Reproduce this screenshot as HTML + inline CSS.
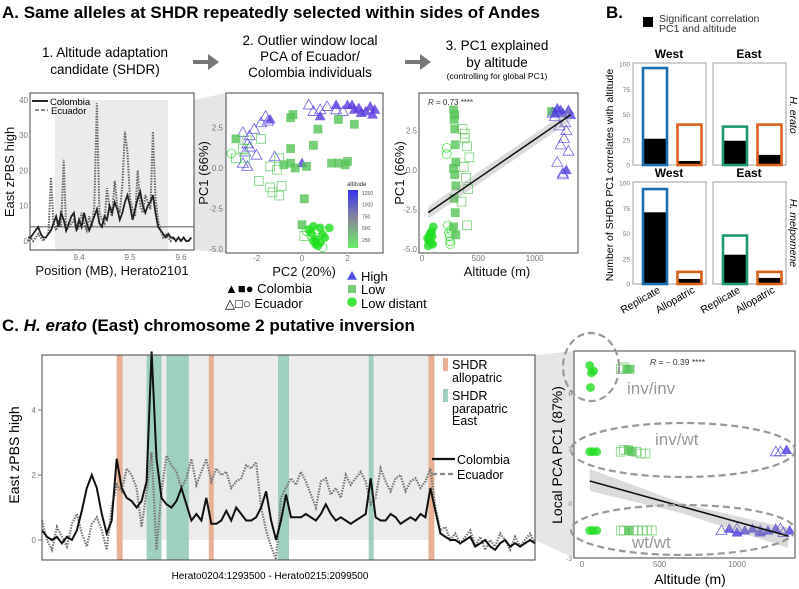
<!DOCTYPE html>
<html><head><meta charset="utf-8"><style>
body{margin:0;background:#fff}
svg{font-family:"Liberation Sans",sans-serif;display:block}
.tk{font-size:8px;fill:#777}
.at{font-size:13px;fill:#111}
</style></head><body>
<svg id="s" width="799" height="589" viewBox="0 0 799 589" xmlns="http://www.w3.org/2000/svg">
<text x="2" y="18" font-size="17" font-weight="bold">A. Same alleles at SHDR repeatedly selected within sides of Andes</text>
<text x="105" y="57" font-size="13.5" text-anchor="middle">1. Altitude adaptation</text>
<text x="105" y="74" font-size="13.5" text-anchor="middle">candidate (SHDR)</text>
<text x="310" y="45" font-size="13.5" text-anchor="middle">2. Outlier window local</text>
<text x="310" y="61" font-size="13.5" text-anchor="middle">PCA of Ecuador/</text>
<text x="310" y="77" font-size="13.5" text-anchor="middle">Colombia individuals</text>
<text x="497" y="50" font-size="13.5" text-anchor="middle">3. PC1 explained</text>
<text x="497" y="67" font-size="13.5" text-anchor="middle">by altitude</text>
<text x="497" y="79" font-size="8.5" text-anchor="middle">(controlling for global PC1)</text>
<g fill="#777">
<path d="M193,60 H208 V54 L219,62 L208,70 V64 H193 Z"/>
<path d="M405,60 H420 V54 L431,62 L420,70 V64 H405 Z"/>
</g>
<polygon points="194,100 226,93 226,253 194,250" fill="#e6e6e6"/>
<polygon points="535,355 574,351 574,558 535,540" fill="#e6e6e6"/>
<g id="a1"></g><g id="a2"></g><g id="a3"></g><g id="b"></g><g id="c1"></g><g id="c2"></g>
<text x="2" y="331" font-size="17" font-weight="bold">C. <tspan font-style="italic">H. erato</tspan> (East) chromosome 2 putative inversion</text>
</svg>
<script>
const NS="http://www.w3.org/2000/svg";
function mk(p,tag,at,txt){const e=document.createElementNS(NS,tag);for(const k in at)e.setAttribute(k,at[k]);if(txt!==undefined)e.textContent=txt;p.appendChild(e);return e;}
function shape(p,type,filled,x,y,c,s){let e;
 if(type==='H'){e=mk(p,'path',{d:`M${x},${y-s} L${x+s},${y+s*0.75} L${x-s},${y+s*0.75} Z`});}
 else if(type==='L'){e=mk(p,'rect',{x:x-s*0.8,y:y-s*0.8,width:s*1.6,height:s*1.6});}
 else{e=mk(p,'circle',{cx:x,cy:y,r:s*0.8});}
 if(filled){e.setAttribute('fill',c);e.setAttribute('fill-opacity','0.8');e.setAttribute('stroke','none');}
 else{e.setAttribute('fill','none');e.setAttribute('stroke',c);e.setAttribute('stroke-width','0.8');e.setAttribute('stroke-opacity','0.8');}
 return e;}

const a1Start=9.30, a1Step=0.005;
const a1Colombia=[1,1,2,3,4,2,1,1,2,3,5,7,4,8,6,3,5,7,8,3,6,4,8,5,3,5,7,9,5,4,7,6,10,8,11,9,6,8,11,13,10,6,9,12,14,10,8,10,11,13,8,4,3,2,1,2,1,1,0,1,0,1,0,0,1];
const a1Ecuador=[0,1,0,1,2,1,0,1,2,18,5,3,6,4,23,3,4,5,6,3,4,8,5,3,7,4,10,39,8,6,5,15,9,7,17,10,8,16,31,25,12,9,7,20,10,8,13,11,9,31,12,6,3,1,2,1,0,1,0,1,0,1,0,0,1];
const a1YTicks=[0,10,20,30,40];
const a1XTicks=[9.4,9.5,9.6];
const a2PC2=[-2.6,-2.4,-2.3,-2.1,-2.5,-2.3,-2.0,-1.8,-1.6,-1.5,-1.2,-2.6,-2.4,0.3,0.5,0.8,1.1,1.5,1.8,
 -1.4,2.0,2.3,2.5,2.8,3.0,3.2,2.6,3.1,0.8,1.5,0.0,2.2,
 -0.5,-0.4,1.6,2.3,0.7,-0.5,0.5,-0.8,-0.5,-0.3,0.2,1.6,1.9,2.0,0.1,0.0,1.3,
 -2.9,-2.6,-1.8,-2.4,-1.0,-1.4,-1.9,-1.1,-1.4,-1.3,-1.0,-0.9,-2.9,-2.5,
 0.1,0.4,0.6,0.8,1.0,0.7,0.5,0.9,1.2,0.3,0.8,0.6,0.5,0.7,0.9,0.4,-3.1,0.2];
const a2PC1=[2.2,1.5,2.0,2.4,1.0,1.3,0.8,2.8,3.2,2.9,0.7,0.3,0.1,3.9,3.5,3.6,3.8,3.6,3.5,
 3.0,3.9,3.6,3.7,3.5,3.8,3.6,3.4,3.3,3.2,3.9,0.3,3.9,
 3.1,3.3,3.0,2.7,2.4,1.2,1.4,0.2,0.3,0.0,0.1,0.3,0.2,0.4,-1.9,-3.5,0.3,
 1.8,1.2,1.8,1.7,0.6,0.1,-0.8,-0.1,-1.2,-1.5,-1.7,-1.1,0.6,0.6,
 -4.2,-4.0,-4.4,-4.6,-4.3,-4.8,-4.5,-4.1,-3.7,-3.8,-3.7,-4.7,-3.6,-3.8,-4.9,-4.2,0.9,-3.9];
const a2Type="HHHHHHHHHHHHHHHHHHHHHHHHHHHHHHHHLLLLLLLLLLLLLLLLLLLLLLLLLLLLLLLLDDDDDDDDDDDDDDDDDD";
const a2Country="EEEEEEEEEEEEEEEEEEECCCCCCCCCCCCCCCCCCCCCCCCCCCCCCCEEEEEEEEEEEEEECCCCCCCCCCCCEEEEEE";
const a2XTicks=[-2,0,2];
const a2YTicks=[2.5,0,-2.5,-5];
const a3Alt=[50,60,70,80,90,100,55,75,65,95,85,
 230,240,250,260,250,220,220,245,
 280,285,290,295,300,280,290,300,285,295,280,300,290,
 360,380,400,420,370,390,410,350,400,380,
 1150,1200,1250,1300,1320,1180,1280,1230,
 1180,1220,1260,1300,1200,1250,1280,1230,1270,1160,1250];
const a3PC1=[-4.3,-4.5,-4.1,-4.6,-4.2,-3.6,-4.8,-4.0,-4.4,-4.7,-3.9,
 -3.5,-4.0,-4.5,-3.8,-4.7,1.0,1.4,-4.2,
 3.8,3.2,2.6,1.6,0.5,0.1,-0.3,-1.0,-1.8,-2.7,-3.6,-4.1,3.5,
 2.6,2.0,1.5,0.8,0.2,-0.5,-1.2,-2.0,-3.5,2.3,
 3.7,3.9,3.6,3.8,3.5,3.6,0.0,3.8,
 3.4,2.8,2.0,1.2,0.5,-0.3,2.5,1.6,3.0,3.6,-0.2];
const a3Type="DDDDDDDDDDDDDDDDDDDLLLLLLLLLLLLLLLLLLLLLLLLHHHHHHHHHHHHHHHHHHH";
const a3Country="CCCCCCCCCCCEEEEEEEECCCCCCCCCCCCCEEEEEEEEEECCCCCCCCEEEEEEEEEEE";
const a3XTicks=[0,500,1000];
const a3YTicks=[2.5,0,-2.5,-5];
const a3Fit=[[55,-2.7],[1320,3.5]];
const bCats=["Replicate","Allopatric"];
const bHeratoWestTotal=[96,40], bHeratoWestSig=[26,4];
const bHeratoEastTotal=[38,40], bHeratoEastSig=[24,10];
const bHmelWestTotal=[94,12], bHmelWestSig=[71,5];
const bHmelEastTotal=[48,12], bHmelEastSig=[29,6];
const bYTicks=[0,25,50,75,100];
const c1Colombia=[0.3,0.1,0.0,0.1,-0.1,0.1,0.0,0.3,0.9,1.6,2.0,1.6,0.8,0.2,0.6,2.5,1.6,1.3,1.2,1.0,
1.2,1.8,5.8,2.5,1.3,1.1,1.0,1.2,1.6,1.1,0.6,0.8,0.6,1.3,0.5,0.5,0.6,0.9,0.6,1.0,
0.8,0.6,0.6,0.7,1.0,1.5,0.6,0.0,0.6,1.4,0.7,0.7,0.7,0.8,0.7,0.6,0.8,1.1,0.8,0.6,
0.7,0.6,0.5,0.6,0.7,0.8,1.9,0.7,0.6,0.6,0.8,0.7,0.5,0.6,0.7,0.6,0.8,0.7,1.6,0.9,
0.2,0.1,0.0,0.0,-0.1,0.0,0.1,-0.2,-0.1,0.0,-0.2,-0.3,-0.1,0.0,-0.2,-0.1,-0.2,-0.1,0.0,-0.1];
const c1Ecuador=[0.6,0.0,-0.3,0.4,0.1,-0.2,0.5,0.8,0.2,-0.2,0.5,0.7,0.3,-0.3,1.0,1.7,1.5,2.2,2.0,1.6,
0.4,1.5,2.7,-0.3,1.5,2.6,2.3,2.1,1.6,1.9,2.5,1.7,2.1,2.5,1.8,2.2,2.0,2.1,1.6,1.8,
1.9,2.3,2.2,2.4,1.0,0.3,-0.2,-0.6,1.3,1.6,1.9,1.7,2.1,1.8,1.4,1.0,1.8,1.9,1.4,1.6,
1.3,2.0,1.7,1.9,2.1,1.8,1.1,1.3,2.2,1.8,1.5,1.9,2.0,1.5,1.8,1.9,1.6,1.8,2.2,1.0,
0.3,0.4,0.0,0.2,-0.1,0.1,0.3,-0.2,0.1,-0.3,0.0,-0.2,0.2,0.0,-0.3,0.1,-0.2,0.0,0.2,-0.1];
const c1YTicks=[0,2,4];
const c1Allopatric=[[15,16.2],[33.5,34.5],[77.6,78.8]];
const c1Parapatric=[[21,24],[25,29.5],[47.4,49.6],[65.6,66.6]];
const c2Alt=[50,60,75,55,250,270,290,310,
 50,70,95,250,270,300,320,350,380,410,1250,1280,1320,
 50,70,95,250,270,300,330,360,390,420,450,900,950,1000,1050,1100,1150,1200,1250,1300,1340,1000,1150,1280];
const c2PC1=[7.5,7.1,7.2,6.3,7.3,7.4,7.3,7.3,
 2.8,2.8,2.8,2.8,2.9,2.9,2.8,2.8,2.7,2.7,2.8,2.8,2.9,
 -1.5,-1.5,-1.5,-1.5,-1.5,-1.5,-1.5,-1.5,-1.5,-1.5,-1.5,-1.5,-1.4,-1.6,-1.5,-1.4,-1.6,-1.5,-1.4,-1.6,-1.5,-1.4,-1.5,-1.4];
const c2Type="DDDDLLLLDDDLLLLLLLHHHDDDLLLLLLLLHHHHHHHHHHHHH";
const c2Country="CCCCEECCCCCEECCEEEEECCCCEECEEEEEECCCCCCCECEEE";
const c2XTicks=[0,500,1000];
const c2YTicks=[-3,0,3,6];
const c2Fit=[[50,1.2],[1330,-1.8]];

const svg=document.getElementById('s');

(function(){
 const g=document.getElementById('a1');
 const X=v=>79+(v-9.4)*510, Y=v=>241-v*3.53;
 let e=mk(g,'rect',{x:55,y:100,width:113,height:150,fill:'#ebebeb'});
 
 e=mk(g,'path',{d:a1Ecuador.map((v,i)=>(i?'L':'M')+X(a1Start+i*a1Step).toFixed(1)+','+Y(v).toFixed(1)).join(''),fill:'none',stroke:'#666','stroke-width':2,'stroke-dasharray':'1.5,1.2'});
 
 e=mk(g,'path',{d:a1Colombia.map((v,i)=>(i?'L':'M')+X(a1Start+i*a1Step).toFixed(1)+','+Y(v).toFixed(1)).join(''),fill:'none',stroke:'#222','stroke-width':1.8});
 
 e=mk(g,'line',{x1:30,x2:194,y1:Y(4),y2:Y(4),stroke:'#222','stroke-width':0.8});
 
 e=mk(g,'rect',{x:30,y:93,width:164,height:157,fill:'none',stroke:'#444','stroke-width':1});
 
 a1YTicks.forEach(t=>{e=mk(g,'text',{x:28,y:Y(t)+3,class:'tk','text-anchor':'end'},t);});
 a1XTicks.forEach(t=>{e=mk(g,'text',{x:X(t),y:260,class:'tk','text-anchor':'middle'},t.toFixed(1));});
 e=mk(g,'text',{x:112,y:275,class:'at','text-anchor':'middle'},'Position (MB), Herato2101');
 e=mk(g,'text',{x:0,y:0,class:'at','text-anchor':'middle',transform:'translate(14,172) rotate(-90)'},'East zPBS high');
 mk(g,'line',{x1:32,x2:48,y1:101,y2:101,stroke:'#111','stroke-width':1.8});
 e=mk(g,'text',{x:50,y:105,'font-size':9.5},'Colombia');
 mk(g,'line',{x1:35,x2:48,y1:110,y2:110,stroke:'#777','stroke-width':1.8,'stroke-dasharray':'4,2'});
 e=mk(g,'text',{x:51,y:114,'font-size':9.5},'Ecuador');
})();

(function(){
 const g=document.getElementById('a2');
 const X=v=>302+v*22.75, Y=v=>168-v*16.2;
 let e=mk(g,'rect',{x:226,y:93,width:157,height:160,fill:'#fff',stroke:'#444','stroke-width':1});
 
 a2PC2.forEach((v,i)=>{const t=a2Type[i];const c=t==='H'?'#4a3ae0':(t==='L'?'#55c455':'#22dd22');
  e=shape(g,t,a2Country[i]==='C',X(v),Y(a2PC1[i]),a2Country[i]==='C'&&t==='H'?'#5a3ae0':c,5.5);
  });
 const gr=mk(svg,'linearGradient',{id:'altg',x1:0,y1:1,x2:0,y2:0});
 mk(gr,'stop',{offset:'0','stop-color':'#66ee66'});mk(gr,'stop',{offset:'0.5','stop-color':'#888899'});mk(gr,'stop',{offset:'1','stop-color':'#3333ee'});
 e=mk(g,'rect',{x:348,y:190,width:10,height:58,fill:'url(#altg)'});
 e=mk(g,'text',{x:347,y:186,'font-size':6,fill:'#333'},'altitude');
 [1250,1000,750,500,250].forEach((t,i)=>{e=mk(g,'text',{x:362,y:195+i*11.7,'font-size':5,fill:'#555'},t);});
 a2YTicks.forEach(t=>{e=mk(g,'text',{x:223,y:Y(t)+3,class:'tk','text-anchor':'end'},t.toFixed(1));});
 a2XTicks.forEach(t=>{e=mk(g,'text',{x:X(t),y:261,class:'tk','text-anchor':'middle'},t);});
 e=mk(g,'text',{x:304,y:276,class:'at','text-anchor':'middle'},'PC2 (20%)');
 e=mk(g,'text',{x:0,y:0,class:'at','text-anchor':'middle',transform:'translate(208,173) rotate(-90)'},'PC1 (66%)');
 e=mk(g,'text',{x:225,y:293,'font-size':13},'▲■● Colombia');
 e=mk(g,'text',{x:225,y:308,'font-size':13},'△□○ Ecuador');
 shape(g,'H',true,352,276,'#2222dd',5);shape(g,'L',true,352,289,'#55bb55',5);shape(g,'D',true,352,302,'#11dd11',6);
 e=mk(g,'text',{x:361,y:281,'font-size':13},'High');
 e=mk(g,'text',{x:361,y:294,'font-size':13},'Low');
 e=mk(g,'text',{x:361,y:308,'font-size':13},'Low distant');
})();

(function(){
 const g=document.getElementById('a3');
 const X=v=>422+v*0.1127, Y=v=>170-v*15.8;
 let e=mk(g,'rect',{x:419,y:93,width:159,height:160,fill:'#fff',stroke:'#444','stroke-width':1});
 
 a3Alt.forEach((v,i)=>{const t=a3Type[i];const c=t==='H'?'#5040e0':(t==='L'?'#55c455':'#22dd22');
  e=shape(g,t,a3Country[i]==='C',X(v),Y(a3PC1[i]),c,5.5);});
 const [p0,p1]=a3Fit;
 e=mk(g,'polygon',{points:`${X(p0[0])},${Y(p0[1])-6} ${X(p1[0])},${Y(p1[1])-6} ${X(p1[0])},${Y(p1[1])+6} ${X(p0[0])},${Y(p0[1])+6}`,fill:'#999','fill-opacity':0.35});
 
 e=mk(g,'line',{x1:X(p0[0]),y1:Y(p0[1]),x2:X(p1[0]),y2:Y(p1[1]),stroke:'#111','stroke-width':1.5});
 
 e=mk(g,'text',{x:428,y:105,'font-size':8,fill:'#333'});e.innerHTML='<tspan font-style="italic">R</tspan> = 0.73 ****';
 a3YTicks.forEach(t=>{e=mk(g,'text',{x:417,y:Y(t)+3,class:'tk','text-anchor':'end'},t.toFixed(1));});
 a3XTicks.forEach(t=>{e=mk(g,'text',{x:X(t),y:261,class:'tk','text-anchor':'middle'},t);});
 e=mk(g,'text',{x:497,y:276,class:'at','text-anchor':'middle'},'Altitude (m)');
 e=mk(g,'text',{x:0,y:0,class:'at','text-anchor':'middle',transform:'translate(404,173) rotate(-90)'},'PC1 (66%)');
})();

(function(){
 const g=document.getElementById('b');
 let e=mk(g,'text',{x:606,y:18,'font-size':17,'font-weight':'bold'},'B.');
 e=mk(g,'rect',{x:643,y:17,width:10,height:10,fill:'#000'});
 e=mk(g,'text',{x:659,y:22,'font-size':10.5,fill:'#333'},'Significant correlation');
 e=mk(g,'text',{x:659,y:32,'font-size':10.5,fill:'#333'},'PC1 and altitude');
 const facets=[
  {x:633,y0:165,tot:bHeratoWestTotal,sig:bHeratoWestSig,c:['#1a6faf','#d8621a'],lab:'West',ly:58},
  {x:713,y0:165,tot:bHeratoEastTotal,sig:bHeratoEastSig,c:['#1e9a70','#d8621a'],lab:'East',ly:58},
  {x:633,y0:284,tot:bHmelWestTotal,sig:bHmelWestSig,c:['#1a6faf','#d8621a'],lab:'West',ly:177},
  {x:713,y0:284,tot:bHmelEastTotal,sig:bHmelEastSig,c:['#1e9a70','#d8621a'],lab:'East',ly:177}];
 facets.forEach((f,fi)=>{
  const Y=v=>f.y0-v*1.01;
  e=mk(g,'rect',{x:f.x,y:Y(100)-1,width:73,height:102,fill:'#fff',stroke:'#888','stroke-width':0.8});
  
  e=mk(g,'text',{x:f.x+36,y:f.ly,'font-size':12,'font-weight':'bold','text-anchor':'middle'},f.lab);
  
  bCats.forEach((c,i)=>{const bx=f.x+10+i*34.5;
   e=mk(g,'rect',{x:bx,y:Y(f.sig[i]),width:24,height:f.sig[i]*1.01,fill:'#000'});
   
   e=mk(g,'rect',{x:bx,y:Y(f.tot[i]),width:24,height:f.tot[i]*1.01,fill:'none',stroke:f.c[i],'stroke-width':2.6});
   
  });
  if(fi%2===0){bYTicks.forEach(t=>{e=mk(g,'text',{x:f.x-3,y:Y(t)+2.5,'font-size':6.5,fill:'#777','text-anchor':'end'},t);});}
  if(fi>=2){bCats.forEach((c,i)=>{const bx=f.x+22+i*34.5;e=mk(g,'text',{x:0,y:0,'font-size':10.5,'text-anchor':'end',transform:`translate(${bx+6},${f.y0+8}) rotate(-30)`},c);});}
 });
 e=mk(g,'text',{x:0,y:0,'font-size':10.5,'text-anchor':'middle',transform:'translate(613,175) rotate(-90)'},'Number of SHDR PC1 correlates with altitude');
 e=mk(g,'text',{x:0,y:0,'font-size':10.5,'font-style':'italic','text-anchor':'middle',transform:'translate(790,115) rotate(90)'},'H. erato');
 e=mk(g,'text',{x:0,y:0,'font-size':10.5,'font-style':'italic','text-anchor':'middle',transform:'translate(790,233) rotate(90)'},'H. melpomene');
})();

(function(){
 const g=document.getElementById('c1');
 const n=c1Colombia.length;
 const X=i=>42+i*(493/(n-1)), Y=v=>540-v*32.5;
 let e=mk(g,'rect',{x:X(15),y:355,width:X(78.8)-X(15),height:185,fill:'#ececec'});
 
 c1Allopatric.forEach(b=>{e=mk(g,'rect',{x:X(b[0]),y:355,width:X(b[1])-X(b[0]),height:205,fill:'#e8b195'});});
 c1Parapatric.forEach(b=>{e=mk(g,'rect',{x:X(b[0]),y:355,width:X(b[1])-X(b[0]),height:205,fill:'#9fd0bf'});});
 e=mk(g,'path',{d:c1Ecuador.map((v,i)=>(i?'L':'M')+X(i).toFixed(1)+','+Y(v).toFixed(1)).join(''),fill:'none',stroke:'#777','stroke-width':2.2,'stroke-dasharray':'1.5,1.2'});
 
 e=mk(g,'path',{d:c1Colombia.map((v,i)=>(i?'L':'M')+X(i).toFixed(1)+','+Y(v).toFixed(1)).join(''),fill:'none',stroke:'#111','stroke-width':2});
 
 e=mk(g,'rect',{x:42,y:355,width:493,height:205,fill:'none',stroke:'#444','stroke-width':1});
 
 c1YTicks.forEach(t=>{e=mk(g,'text',{x:36,y:Y(t)+3,class:'tk','text-anchor':'end'},t);mk(g,'line',{x1:38,x2:42,y1:Y(t),y2:Y(t),stroke:'#777'});});
 e=mk(g,'text',{x:270,y:579,'font-size':10,'text-anchor':'middle'},'Herato0204:1293500 - Herato0215:2099500');
 e=mk(g,'text',{x:0,y:0,'font-size':14,'text-anchor':'middle',transform:'translate(19,455) rotate(-90)'},'East zPBS high');
 e=mk(g,'rect',{x:443,y:358,width:5,height:13,fill:'#e8b195'});
 mk(g,'text',{x:452,y:369,'font-size':12.5},'SHDR');mk(g,'text',{x:452,y:382,'font-size':12.5},'allopatric');
 e=mk(g,'rect',{x:443,y:389,width:5,height:13,fill:'#9fd0bf'});
 mk(g,'text',{x:452,y:400,'font-size':12.5},'SHDR');mk(g,'text',{x:452,y:413,'font-size':12.5},'parapatric');mk(g,'text',{x:452,y:425,'font-size':12.5},'East');
 mk(g,'line',{x1:432,x2:455,y1:459,y2:459,stroke:'#111','stroke-width':2.2});
 e=mk(g,'text',{x:457,y:464,'font-size':12.5},'Colombia');
 mk(g,'line',{x1:432,x2:455,y1:474,y2:474,stroke:'#888','stroke-width':2.2,'stroke-dasharray':'5,3'});
 e=mk(g,'text',{x:457,y:479,'font-size':12.5},'Ecuador');
})();

(function(){
 const g=document.getElementById('c2');
 const X=v=>582+v*0.155, Y=v=>503-v*18.33;
 let e=mk(g,'rect',{x:574,y:351,width:221,height:207,fill:'#fff',stroke:'#444','stroke-width':1});
 
 c2Alt.forEach((v,i)=>{const t=c2Type[i];const c=t==='H'?'#4a3ae0':(t==='L'?'#55c455':'#22dd22');
  e=shape(g,t,c2Country[i]==='C',X(v),Y(c2PC1[i]),c,5.5);});
 const [p0,p1]=c2Fit;
 e=mk(g,'polygon',{points:`${X(p0[0])},${Y(p0[1])-12} ${X(650)},${Y(-0.3)-5} ${X(p1[0])},${Y(p1[1])-8} ${X(p1[0])},${Y(p1[1])+12} ${X(650)},${Y(-0.3)+5} ${X(p0[0])},${Y(p0[1])+10}`,fill:'#999','fill-opacity':0.35});
 
 e=mk(g,'line',{x1:X(p0[0]),y1:Y(p0[1]),x2:X(p1[0]),y2:Y(p1[1]),stroke:'#111','stroke-width':1.6});
 
 const ell=[[591,367,28,34,'inv/inv',627,394],[683,450,112,27,'inv/wt',655,445],[683,530,112,25,'wt/wt',632,548]];
 ell.forEach(q=>{e=mk(g,'ellipse',{cx:q[0],cy:q[1],rx:q[2],ry:q[3],fill:'none',stroke:'#999','stroke-width':2.2,'stroke-dasharray':'7,4'});
  e=mk(g,'text',{x:q[5],y:q[6],'font-size':17,fill:'#999'},q[4]);});
 e=mk(g,'text',{x:650,y:365,'font-size':8.5,fill:'#333'});e.innerHTML='<tspan font-style="italic">R</tspan> = – 0.39 ****';
 c2YTicks.forEach(t=>{e=mk(g,'text',{x:572,y:Y(t)+3,'font-size':6.5,fill:'#777','text-anchor':'end'},t);});
 c2XTicks.forEach(t=>{e=mk(g,'text',{x:X(t),y:567,'font-size':8,fill:'#777','text-anchor':'middle'},t);});
 e=mk(g,'text',{x:690,y:584,'font-size':14,'text-anchor':'middle'},'Altitude (m)');
 e=mk(g,'text',{x:0,y:0,'font-size':14,'text-anchor':'middle',transform:'translate(562,455) rotate(-90)'},'Local PCA PC1 (87%)');
})();
</script>
</body></html>
